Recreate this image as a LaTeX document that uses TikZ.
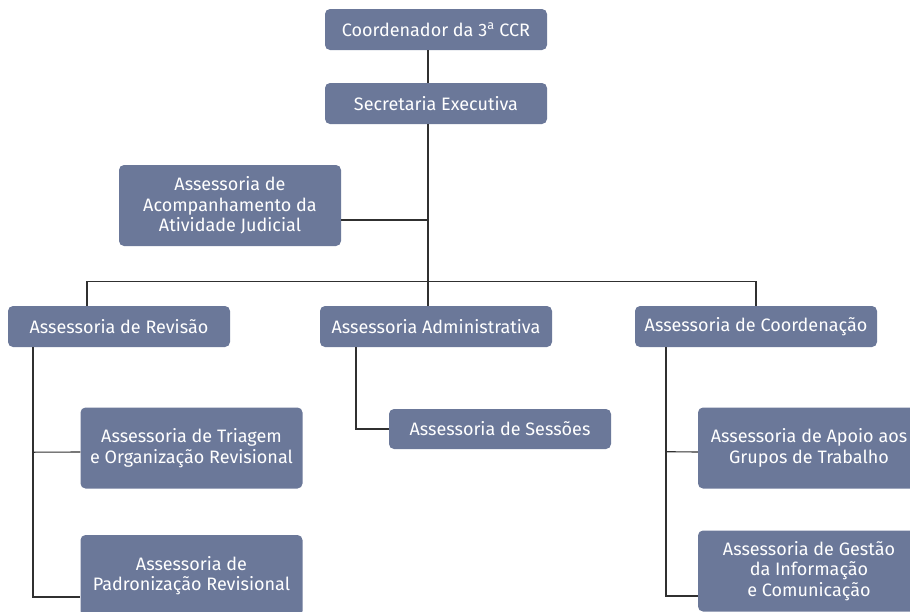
\documentclass[tikz,border=0pt]{standalone}
\usepackage{fontspec}
\setmainfont{Fira Sans}
\usetikzlibrary{positioning}
\definecolor{unitblue}{HTML}{6B7899}
\definecolor{linkgray}{HTML}{303030}
\tikzset{
  unit/.style={fill=unitblue, text=white, rounded corners=5pt, inner sep=0pt,
    minimum width=222pt, minimum height=41pt, align=center,
    font=\fontsize{18}{20.5}\selectfont},
  tall/.style={minimum height=81pt},
  link/.style={draw=linkgray, line width=1.1pt}
}

\begin{document}
\begin{tikzpicture}[x=1pt,y=-1pt]
 \useasboundingbox (0,0) rectangle (910,611);
 \clip (0,0) rectangle (910,611);

 % top of the chart
 \draw (436,29.5) node[unit] (coord) {Coordenador da 3\textsuperscript{a} CCR};
 \draw (436,103.5) node[unit] (secretaria) {Secretaria Executiva};
 \draw (230,205.5) node[unit,tall] (acomp) {Assessoria de\\Acompanhamento da\\Atividade Judicial};

 % second level
 \draw (119,326.5) node[unit] (revisao) {Assessoria de Revisão};
 \draw (436,326.5) node[unit,minimum width=232pt] (admin) {Assessoria Administrativa};
 \draw (756,326.5) node[unit,minimum width=242pt] (coordenacao) {Assessoria de Coordenação};

 % third level
 \draw (191.5,448) node[unit,tall] (triagem) {Assessoria de Triagem\\e Organização Revisional};
 \draw (191.5,575.5) node[unit,tall] (padron) {Assessoria de\\Padronização Revisional};
 \draw (500,429) node[unit,minimum height=40pt] (sessoes) {Assessoria de Sessões};
 \draw (809,448) node[unit,tall] (apoio) {Assessoria de Apoio aos\\Grupos de Trabalho};
 \draw (809,571) node[unit,tall] (gestao) {Assessoria de Gestão\\da Informação\\e Comunicação};

 % connectors
 \draw[link] ([xshift=-8pt]coord.south) -- ([xshift=-8pt]secretaria.north);
 \draw[link] ([xshift=-8pt]secretaria.south) -- ([xshift=-8pt]admin.north);
 \draw[link] ([yshift=-14.5pt]acomp.east) -- ++(87,0);
 \draw[link] ([xshift=-32pt]revisao.north) -- ++(0,-24) -| (coordenacao.north);

 \draw[link] ([xshift=-86pt]revisao.south) |- ([yshift=-21.5pt]padron.west);
 \draw[link] ([xshift=-86pt,yshift=-105pt]revisao.south) -- ([yshift=-4pt]triagem.west);
 \draw[link] ([xshift=-80pt]admin.south) |- (sessoes.west);
 \draw[link] ([xshift=-90pt]coordenacao.south) |- ([yshift=-25pt]gestao.west);
 \draw[link] ([xshift=-90pt,yshift=-104.5pt]coordenacao.south) -- ([yshift=-4pt]apoio.west);
\end{tikzpicture}
\end{document}
